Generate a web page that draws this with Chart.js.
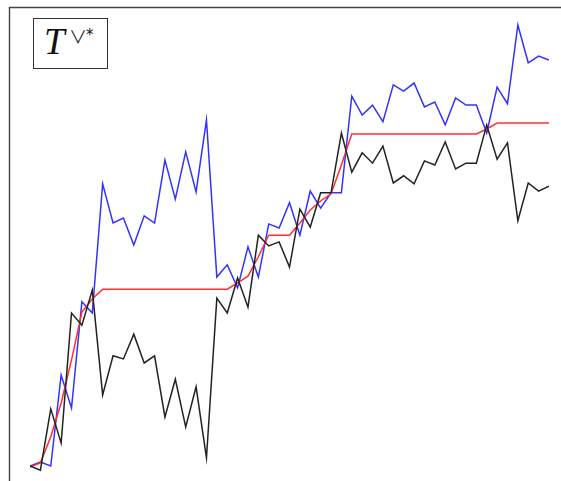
<!DOCTYPE html>
<html>
<head>
<meta charset="utf-8">
<title>T∨*</title>
<script src="https://cdn.jsdelivr.net/npm/chart.js@4"></script>
<style>
  html, body { margin: 0; padding: 0; background: #fff; }
  .wrap { position: relative; width: 561px; height: 481px; }
  #grafico { position: absolute; left: 0; top: 0; }
  .chave {
    position: absolute;
    left: 33px; top: 18px;
    width: 73px; height: 49px;
    border: 1.3px solid #333;
    box-sizing: content-box;
    background: #fff;
    font-family: "Liberation Serif", "DejaVu Serif", serif;
    color: #111;
  }
  .chave i { position: absolute; left: 10px; top: 4px; font-size: 37px; line-height: 1; }
  .chave .ou {
    position: absolute; left: 35px; top: 8px;
    font-family: "Noto Sans CJK JP", "DejaVu Sans", sans-serif;
    font-size: 18px; line-height: 1; color: #333;
  }
  .chave .ast {
    position: absolute; left: 52px; top: 9px;
    font-family: "DejaVu Sans", sans-serif; font-size: 15px; line-height: 1;
  }
</style>
</head>
<body>
<div class="wrap">
  <canvas id="grafico" width="561" height="481"></canvas>
  <div class="chave"><i>T</i><span class="ou">∨</span><span class="ast">*</span></div>
</div>
<script>
/* ============================================================
   DADOS
============================================================ */
const passos = Array.from({ length: 51 }, (_, i) => i);

const serieAzul = [
  0.31, 0.40, 0.31, 2.33, 1.60, 3.96, 3.71, 6.58, 5.71, 5.82,
  5.22, 5.87, 5.71, 7.11, 6.24, 7.29, 6.40, 8.00, 4.51, 4.78,
  4.27, 5.18, 4.51, 5.69, 5.60, 6.16, 5.44, 6.42, 6.04, 6.38,
  6.38, 8.53, 8.11, 8.33, 7.96, 8.78, 8.64, 8.82, 8.29, 8.40,
  7.89, 8.49, 8.33, 8.33, 7.71, 8.73, 8.36, 10.11, 9.27, 9.42,
  9.33,
];

const seriePreta = [
  0.31, 0.22, 1.58, 0.82, 3.71, 3.44, 4.22, 1.89, 2.76, 2.69,
  3.24, 2.60, 2.76, 1.40, 2.24, 1.18, 2.07, 0.49, 4.04, 3.71,
  4.49, 3.84, 5.44, 5.20, 5.29, 4.73, 6.02, 5.62, 6.38, 6.38,
  7.71, 6.84, 7.27, 7.04, 7.42, 6.60, 6.76, 6.58, 7.09, 7.00,
  7.51, 6.91, 7.04, 7.04, 7.89, 7.13, 7.49, 5.76, 6.60, 6.42,
  6.53,
];

const serieVermelha = [
  0.29, 0.38, 0.96, 1.71, 2.67, 3.73, 4.02, 4.24, 4.24, 4.24,
  4.24, 4.24, 4.24, 4.24, 4.24, 4.24, 4.24, 4.24, 4.24, 4.24,
  4.38, 4.53, 4.96, 5.44, 5.44, 5.44, 5.71, 6.00, 6.20, 6.36,
  7.00, 7.69, 7.69, 7.69, 7.69, 7.69, 7.69, 7.69, 7.69, 7.69,
  7.69, 7.69, 7.69, 7.69, 7.80, 7.93, 7.93, 7.93, 7.93, 7.93,
  7.93,
];

const pares = (ys) => ys.map((y, i) => ({ x: passos[i], y }));

/* ============================================================
   MOLDURA (borda superior e esquerda)
============================================================ */
const moldura = {
  id: "moldura",
  afterDraw(chart) {
    const ctx = chart.ctx;
    ctx.save();
    ctx.strokeStyle = "#444";
    ctx.lineWidth = 1.4;
    ctx.beginPath();
    ctx.moveTo(561, 7.5);
    ctx.lineTo(9.5, 7.5);
    ctx.lineTo(9.5, 481);
    ctx.stroke();
    ctx.restore();
  },
};

/* ============================================================
   GRÁFICO
============================================================ */
const linha = (data, cor, ordem) => ({
  data: pares(data),
  borderColor: cor,
  borderWidth: 1.5,
  pointRadius: 0,
  tension: 0,
  fill: false,
  order: ordem,
});

new Chart(document.getElementById("grafico"), {
  type: "line",
  data: {
    datasets: [
      linha(seriePreta, "#222222", 1),
      linha(serieVermelha, "#ff3030", 2),
      linha(serieAzul, "#3232ff", 3),
    ],
  },
  options: {
    responsive: false,
    animation: false,
    devicePixelRatio: 1,
    layout: { padding: { left: 30, right: 12, top: 7, bottom: 1 } },
    plugins: { legend: { display: false }, tooltip: { enabled: false } },
    scales: {
      x: { type: "linear", min: 0, max: 50, display: false },
      y: { min: 0, max: 10.51, display: false },
    },
  },
  plugins: [moldura],
});
</script>
</body>
</html>
